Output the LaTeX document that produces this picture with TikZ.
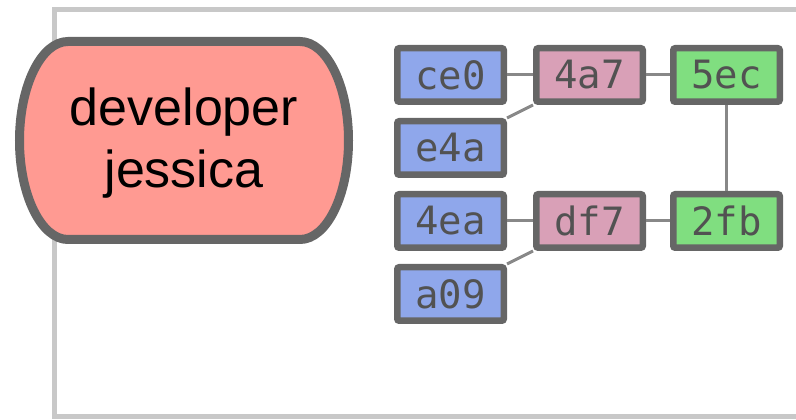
\documentclass[tikz,border=0pt]{standalone}
\usepackage{fontspec}
\setmainfont{Liberation Sans}
\newfontfamily\commitfont{DejaVu Sans Mono}
\usetikzlibrary{positioning}
\definecolor{frame}{RGB}{200,200,200}
\definecolor{edge}{RGB}{102,102,102}
\definecolor{link}{RGB}{136,136,136}
\definecolor{devred}{RGB}{255,154,146}
\definecolor{blob}{RGB}{143,167,235}
\definecolor{tree}{RGB}{217,160,183}
\definecolor{commit}{RGB}{128,222,128}

\begin{document}
\begin{tikzpicture}[x=1pt,y=1pt,
    cbox/.style={draw=edge,line width=6.5pt,rounded corners=2pt,
                minimum width=106.5pt,minimum height=53.5pt,inner sep=0pt,
                font=\commitfont\fontsize{39}{39}\selectfont,text=black!68},
    lnk/.style={draw=link,line width=3pt}]
    \useasboundingbox (0,0) rectangle (796,420);
    \clip (0,0) rectangle (796,420);
    \draw[frame,line width=5pt] (54,3.5) rectangle (830,410);

    % developer
    \draw[edge,line width=9pt,fill=devred]
      (68,378.5) -- (300,378.5)
      arc[start angle=90,end angle=-90,x radius=48.5,y radius=99]
      -- (68,180.5)
      arc[start angle=270,end angle=90,x radius=48.5,y radius=99] -- cycle;
    \node[align=center,font=\fontsize{52}{62}\selectfont] (dev) at (184,277)
      {developer\\jessica};

    % objects
    \node[cbox,fill=blob]   (ce0) at (450.5,345) {ce0};
    \node[cbox,fill=blob]   (e4a) at (450.5,272) {e4a};
    \node[cbox,fill=blob]   (4ea) at (450.5,199) {4ea};
    \node[cbox,fill=blob]   (a09) at (450.5,126) {a09};
    \node[cbox,fill=tree]   (4a7) at (589.5,345) {4a7};
    \node[cbox,fill=tree]   (df7) at (589.5,199) {df7};
    \node[cbox,fill=commit] (5ec) at (726.5,345) {5ec};
    \node[cbox,fill=commit] (2fb) at (726.5,199) {2fb};

    \draw[lnk] (ce0.east) -- (4a7.west);
    \draw[lnk] (e4a.north east) -- (4a7.south west);
    \draw[lnk] (4a7.east) -- (5ec.west);
    \draw[lnk] (5ec.south) -- (2fb.north);
    \draw[lnk] (4ea.east) -- (df7.west);
    \draw[lnk] (a09.north east) -- (df7.south west);
    \draw[lnk] (df7.east) -- (2fb.west);
  \end{tikzpicture}
\end{document}
